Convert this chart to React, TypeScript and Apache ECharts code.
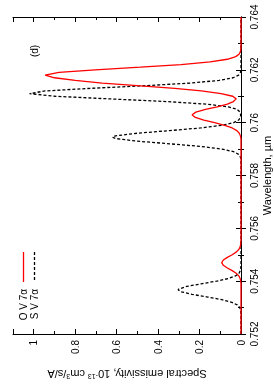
import React, { useEffect, useRef } from "react";
import * as echarts from "echarts";

// S V 7α (black dashed): wavelength (µm) and spectral emissivity
const wavelengthS = [
  0.752, 0.7527, 0.7528, 0.7529, 0.753, 0.7531, 0.7532, 0.7533, 0.7534, 0.7535, 0.7536, 0.75367, 0.7537,
  0.7538, 0.7539, 0.754, 0.7541, 0.7542, 0.7543, 0.7544, 0.7545, 0.7546, 0.7585, 0.7586, 0.7587,
  0.7588, 0.7589, 0.759, 0.7591, 0.7592, 0.7593, 0.7594, 0.75945, 0.7595, 0.7596, 0.7597, 0.7598,
  0.7599, 0.76, 0.7601, 0.7602, 0.7603, 0.7604, 0.7605, 0.7606, 0.7607, 0.7608, 0.7609, 0.761,
  0.7611, 0.7612, 0.7613, 0.7614, 0.7615, 0.7616, 0.7617, 0.7618, 0.7619, 0.762, 0.7621, 0.764,
];
const emissivityS = [
  0, 0, 0.0004, 0.0018, 0.0062, 0.018, 0.0445, 0.0924, 0.161, 0.236, 0.29, 0.303, 0.3006,
  0.262, 0.1915, 0.118, 0.061, 0.0265, 0.0097, 0.003, 0.0008, 0, 0, 0.0007, 0.003,
  0.0114, 0.0355, 0.0915, 0.1948, 0.3435, 0.5012, 0.6055, 0.62, 0.6055, 0.5012, 0.3435, 0.1948,
  0.0915, 0.0355, 0.0114, 0.003, 0.0015, 0.0046, 0.018, 0.061, 0.166, 0.361, 0.633, 0.895,
  1.02, 0.945, 0.725, 0.461, 0.242, 0.1055, 0.038, 0.0113, 0.0028, 0.0006, 0, 0,
];

// O V 7α (red solid)
const wavelengthO = [
  0.752, 0.7539, 0.754, 0.7541, 0.7542, 0.7543, 0.7544, 0.7545, 0.7546, 0.7547, 0.7548, 0.7549,
  0.755, 0.7551, 0.7552, 0.7553, 0.7554, 0.7555, 0.7556, 0.7594, 0.7595, 0.7596, 0.7597, 0.7598,
  0.7599, 0.76, 0.7601, 0.7602, 0.7603, 0.7604, 0.7605, 0.7606, 0.7607, 0.7608, 0.7609, 0.761,
  0.7611, 0.7612, 0.7613, 0.7614, 0.7615, 0.7616, 0.7617, 0.7618, 0.7619, 0.762, 0.7621, 0.7622,
  0.7623, 0.7624, 0.7625, 0.7626, 0.7627, 0.7628, 0.7629, 0.764,
];
const emissivityO = [
  0, 0, 0.0013, 0.0041, 0.0106, 0.0232, 0.0426, 0.0658, 0.0853, 0.093, 0.0853, 0.0658,
  0.0426, 0.0232, 0.0106, 0.0041, 0.0013, 0.0003, 0, 0, 0.0029, 0.0082, 0.02, 0.0425,
  0.0788, 0.1273, 0.1794, 0.2204, 0.236, 0.2178, 0.1713, 0.1149, 0.0656, 0.037, 0.023, 0.04,
  0.096, 0.191, 0.32, 0.5, 0.67, 0.8, 0.9, 0.945, 0.878, 0.703, 0.486, 0.289,
  0.149, 0.066, 0.0252, 0.0083, 0.0024, 0.0006, 0, 0,
];

const seriesNames = ["O V 7α", "S V 7α"];
const panelLabel = "(d)";
const xTitle = "Spectral emissivity, 10{sup|-13} cm{sup|3}/s/A";
const yTitle = "Wavelength, µm";

const FONT = "'Liberation Sans', Arial, sans-serif";

export default function App() {
  const ref = useRef<HTMLDivElement>(null);
  useEffect(() => {
    if (!ref.current) return;
    const chart = echarts.init(ref.current, undefined, { renderer: "svg" });
    const emisAxisBase = {
      type: "value",
      min: 0,
      max: 1.1,
      interval: 0.2,
      inverse: true,
      axisLine: { show: true, lineStyle: { color: "#000", width: 1 } },
      axisTick: { show: true, inside: true, length: 5, lineStyle: { color: "#000" } },
      minorTick: { show: true, splitNumber: 2, length: 3, lineStyle: { color: "#000" } },
      splitLine: { show: false },
    };
    const waveAxisBase = {
      type: "value",
      min: 0.752,
      max: 0.764,
      interval: 0.002,
      axisLine: { show: true, lineStyle: { color: "#000", width: 1 } },
      axisTick: { show: true, inside: true, length: 5, lineStyle: { color: "#000" } },
      minorTick: { show: true, splitNumber: 2, length: 3, lineStyle: { color: "#000" } },
      splitLine: { show: false },
    };
    chart.setOption({
      animation: false,
      grid: { left: 13, right: 33, top: 17, bottom: 56, containLabel: false },
      xAxis: [
        {
          ...emisAxisBase,
          position: "bottom",
          axisLabel: {
            show: true,
            rotate: 90,
            margin: 6,
            fontSize: 10,
            color: "#000",
            fontFamily: FONT,
            showMaxLabel: false,
            formatter: (v: number) => (Math.abs(v - 1.1) < 1e-6 ? "" : String(Number(v.toFixed(1)))),
          },
        },
        { ...emisAxisBase, position: "top", axisLabel: { show: false } },
      ],
      yAxis: [
        {
          ...waveAxisBase,
          position: "right",
          axisLabel: {
            show: true,
            rotate: 90,
            margin: 8,
            fontSize: 10,
            color: "#000",
            fontFamily: FONT,
            formatter: (v: number) => String(Number(v.toFixed(3))),
          },
        },
        { ...waveAxisBase, position: "left", axisLabel: { show: false } },
      ],
      series: [
        {
          name: seriesNames[1],
          type: "line",
          xAxisIndex: 0,
          yAxisIndex: 0,
          showSymbol: false,
          clip: false,
          data: wavelengthS.map((w, i) => [emissivityS[i], w]),
          lineStyle: { color: "#000", width: 1.3, type: [3, 2] },
          z: 3,
        },
        {
          name: seriesNames[0],
          type: "line",
          xAxisIndex: 0,
          yAxisIndex: 0,
          showSymbol: false,
          clip: false,
          data: wavelengthO.map((w, i) => [emissivityO[i], w]),
          lineStyle: { color: "#ff0000", width: 1.3 },
          z: 4,
        },
      ],
      graphic: [
        {
          type: "line",
          shape: { x1: 23.5, y1: 252, x2: 23.5, y2: 282 },
          style: { stroke: "#ff0000", lineWidth: 1.3 },
        },
        {
          type: "line",
          shape: { x1: 34.5, y1: 252, x2: 34.5, y2: 282 },
          style: { stroke: "#000", lineWidth: 1.3, lineDash: [3, 2] },
        },
        {
          type: "text",
          x: 23.5,
          y: 289,
          rotation: Math.PI / 2,
          style: { text: seriesNames[0], align: "right", verticalAlign: "middle", fontSize: 10, fontFamily: FONT, fill: "#000" },
        },
        {
          type: "text",
          x: 34.5,
          y: 289,
          rotation: Math.PI / 2,
          style: { text: seriesNames[1], align: "right", verticalAlign: "middle", fontSize: 10, fontFamily: FONT, fill: "#000" },
        },
        {
          type: "text",
          x: 34,
          y: 51,
          rotation: Math.PI / 2,
          style: { text: panelLabel, align: "center", verticalAlign: "middle", fontSize: 10, fontFamily: FONT, fill: "#000" },
        },
        {
          type: "text",
          x: 267,
          y: 175.5,
          rotation: Math.PI / 2,
          style: { text: yTitle, align: "center", verticalAlign: "middle", fontSize: 11, fontFamily: FONT, fill: "#000" },
        },
        {
          type: "text",
          x: 127,
          y: 374,
          rotation: Math.PI,
          style: {
            text: xTitle,
            align: "center",
            verticalAlign: "middle",
            fontSize: 11,
            fontFamily: FONT,
            fill: "#000",
            rich: {
              sup: { fontSize: 7, verticalAlign: "top", lineHeight: 12, fontFamily: FONT, fill: "#000" },
            },
          },
        },
      ],
    });
    return () => chart.dispose();
  }, []);
  return <div ref={ref} style={{ position: "fixed", left: 0, top: 0, width: 274, height: 390 }} />;
}
